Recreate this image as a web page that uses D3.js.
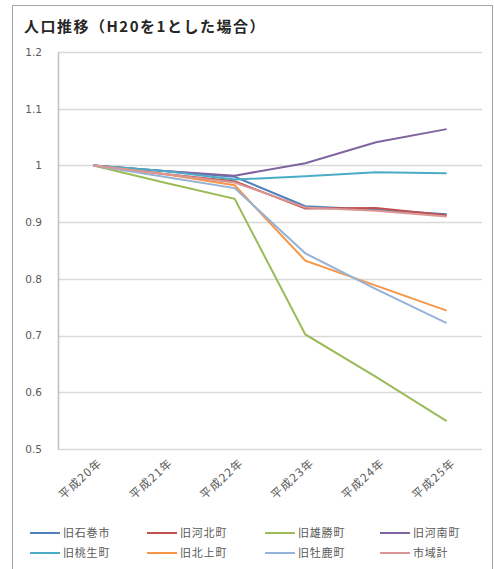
<!DOCTYPE html>
<html>
<head>
<meta charset="utf-8">
<style>
  body { margin: 0; background: #fff; }
  svg text { font-family: "Noto Sans CJK JP", sans-serif; }
</style>
</head>
<body>
<script src="https://d3js.org/d3.v7.min.js"></script>
<script>
var w = 494, h = 569;

var years = ["平成20年", "平成21年", "平成22年", "平成23年", "平成24年", "平成25年"];
var yTicks = [0.5, 0.6, 0.7, 0.8, 0.9, 1, 1.1, 1.2];

var names = ["旧石巻市", "旧河北町", "旧雄勝町", "旧河南町", "旧桃生町", "旧北上町", "旧牡鹿町", "市域計"];
var colors = ["#4f81bd", "#c0504d", "#9bbb59", "#8064a2", "#4bacc6", "#f79646", "#95b3d7", "#d99694"];

var ishinomaki = [1, 0.99, 0.98, 0.928, 0.922, 0.914];
var kahoku     = [1, 0.985, 0.972, 0.924, 0.925, 0.912];
var ogatsu     = [1, 0.97, 0.941, 0.702, 0.627, 0.549];
var kanan      = [1, 0.99, 0.982, 1.004, 1.041, 1.064];
var monou      = [1, 0.99, 0.975, 0.981, 0.988, 0.986];
var kitakami   = [1, 0.985, 0.965, 0.832, 0.788, 0.744];
var oshika     = [1, 0.98, 0.96, 0.845, 0.782, 0.722];
var total      = [1, 0.985, 0.97, 0.926, 0.92, 0.91];

var series = [ishinomaki, kahoku, ogatsu, kanan, monou, kitakami, oshika, total];

var svg = d3.select("body").append("svg")
    .attr("width", w)
    .attr("height", h);

// chart frame
svg.append("rect")
    .attr("x", 12.5).attr("y", 5.5)
    .attr("width", 480).attr("height", 600)
    .attr("fill", "#fff")
    .attr("stroke", "#a6a6a6");

svg.append("text")
    .attr("x", 24).attr("y", 32)
    .attr("font-size", 15)
    .attr("font-weight", "bold")
    .attr("letter-spacing", 1.5)
    .attr("fill", "#262626")
    .text("人口推移（H20を1とした場合）");

var plotL = 58, plotR = 482, plotT = 52, plotB = 449;

var x = d3.scalePoint()
    .domain(years)
    .range([plotL, plotR])
    .padding(0.5);

var y = d3.scaleLinear()
    .domain([0.5, 1.2])
    .range([plotB, plotT]);

// gridlines
svg.append("g")
    .selectAll("line")
    .data(yTicks)
    .enter()
    .append("line")
    .attr("x1", plotL).attr("x2", plotR)
    .attr("y1", function(d) { return Math.round(y(d)) + 0.5; })
    .attr("y2", function(d) { return Math.round(y(d)) + 0.5; })
    .attr("stroke", "#d9d9d9")
    .attr("stroke-width", 1.5);

// y axis
var yAxis = svg.append("g")
    .attr("transform", "translate(" + plotL + ",0)")
    .call(d3.axisLeft(y).tickValues(yTicks).tickSize(0).tickPadding(16)
        .tickFormat(function(d) { return d3.format("")(d); }));
yAxis.select(".domain").attr("stroke", "#bfbfbf").attr("stroke-width", 1.5);
yAxis.selectAll("text")
    .attr("font-size", 10.5)
    .attr("fill", "#595959")
    .style("font-family", "'DejaVu Sans', sans-serif");

// x axis labels
var xAxis = svg.append("g")
    .attr("transform", "translate(0," + plotB + ")")
    .call(d3.axisBottom(x).tickSize(0).tickPadding(0));
xAxis.select(".domain").remove();
xAxis.selectAll("text")
    .attr("font-size", 11.5)
    .attr("letter-spacing", 1.2)
    .attr("fill", "#595959")
    .attr("text-anchor", "end")
    .attr("dy", 0)
    .attr("transform", "translate(9,15) rotate(-42)");

// lines
var line = d3.line()
    .x(function(d, i) { return x(years[i]); })
    .y(function(d) { return y(d); });

svg.append("g")
    .selectAll("path")
    .data(series)
    .enter()
    .append("path")
    .attr("d", line)
    .attr("fill", "none")
    .attr("stroke", function(d, i) { return colors[i]; })
    .attr("stroke-width", 2);

// legend
var legX = [30, 147, 265, 380];
var legY = [533, 553];
var leg = svg.append("g")
    .selectAll("g")
    .data(names)
    .enter()
    .append("g")
    .attr("transform", function(d, i) {
        return "translate(" + legX[i % 4] + "," + legY[Math.floor(i / 4)] + ")";
    });
leg.append("line")
    .attr("x1", 0).attr("x2", 30)
    .attr("stroke", function(d, i) { return colors[i]; })
    .attr("stroke-width", 2);
leg.append("text")
    .attr("x", 33).attr("dy", "0.35em")
    .attr("font-size", 11)
    .attr("letter-spacing", 0.8)
    .attr("fill", "#595959")
    .text(function(d) { return d; });
</script>
</body>
</html>
